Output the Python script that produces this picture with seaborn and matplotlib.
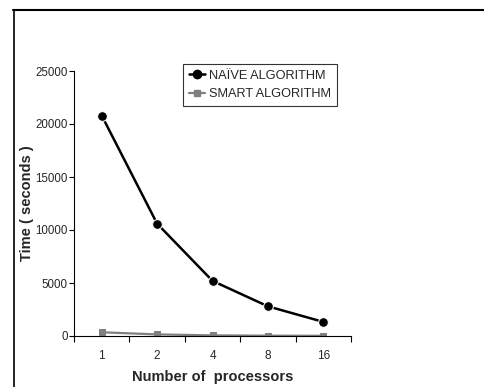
import matplotlib
matplotlib.use("Agg")
import matplotlib.pyplot as plt
import seaborn as sns
import pandas as pd
from matplotlib.lines import Line2D

processors = ["1", "2", "4", "8", "16"]
naive_times = [20800, 10600, 5200, 2800, 1330]
smart_times = [350, 150, 60, 30, 20]
series_names = ["NAÏVE ALGORITHM", "SMART ALGORITHM"]
y_ticks = [0, 5000, 10000, 15000, 20000, 25000]

sns.set_theme(style="white")
plt.rcParams['font.family'] = ['Liberation Sans', 'DejaVu Sans']

df = pd.DataFrame({
    "processors": processors * 2,
    "time": naive_times + smart_times,
    "series": [series_names[0]] * 5 + [series_names[1]] * 5,
})

fig = plt.figure(figsize=(4.84, 3.87), dpi=100)
ax = fig.add_axes([74/484, 1-336/387, (351-74)/484, (336-71)/387])

sns.lineplot(data=df[df.series == series_names[0]], x="processors", y="time",
             color="black", marker="o", markersize=7, linewidth=1.8, ax=ax,
             sort=False, legend=False)
sns.lineplot(data=df[df.series == series_names[1]], x="processors", y="time",
             color="#808080", marker="s", markersize=5, linewidth=1.6, ax=ax,
             sort=False, legend=False, markeredgecolor="#808080")

ax.set_xlim(-0.5, 4.5)
ax.set_ylim(0, 25000)
ax.set_yticks(y_ticks)
ax.set_yticklabels([str(v) for v in y_ticks], fontsize=8.3)
ax.set_xticks(range(5))
ax.set_xticklabels(processors, fontsize=8.5)
ax.tick_params(axis='x', length=0, pad=10)
ax.set_xticks([i - 0.5 for i in range(6)], minor=True)
ax.tick_params(axis='x', which='minor', length=4, width=0.8, direction='out', color='black', bottom=True)
ax.tick_params(axis='y', length=3.5, width=0.8, direction='out', color='black', left=True, pad=1)

for s in ["top", "right"]:
    ax.spines[s].set_visible(False)
for s in ["left", "bottom"]:
    ax.spines[s].set_color("black")
    ax.spines[s].set_linewidth(0.8)

ax.set_xlabel("Number of  processors", fontsize=10.5, fontweight="bold", labelpad=6)
ax.set_ylabel("Time ( seconds )", fontsize=10.5, fontweight="bold")
ax.yaxis.set_label_coords((34-74)/277, 0.5)

handles = [
    Line2D([], [], color="black", marker="o", markersize=6, linewidth=1.8),
    Line2D([], [], color="#808080", marker="s", markersize=4, linewidth=1.6),
]
leg = ax.legend(handles, series_names, loc="upper left", bbox_to_anchor=((183-74)/277, (336-64)/265),
                frameon=True, fontsize=9.2, handlelength=1.3, handletextpad=0.3,
                borderpad=0.45, labelspacing=0.5, fancybox=False, borderaxespad=0)
leg.get_frame().set_edgecolor("black")
leg.get_frame().set_linewidth(0.8)

# figure frame lines (top and left)
fig.add_artist(Line2D([13/484, 1.0], [1-9.5/387, 1-9.5/387], color="black", linewidth=1.5,
                      transform=fig.transFigure))
fig.add_artist(Line2D([13.5/484, 13.5/484], [0, 1-9.5/387], color="black", linewidth=1.2,
                      transform=fig.transFigure))

fig.savefig("out.png", dpi=100)
